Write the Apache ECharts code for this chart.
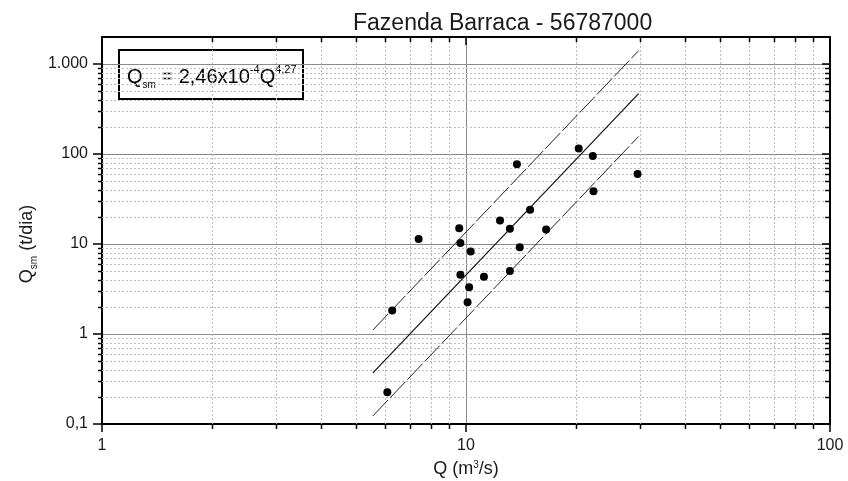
<!DOCTYPE html>
<html>
<head>
<meta charset="utf-8">
<script src="https://cdn.jsdelivr.net/npm/echarts@6/dist/echarts.min.js"></script>
<style>
  html, body { margin: 0; padding: 0; background: #fff; }
  #chart { width: 848px; height: 481px; }
</style>
</head>
<body>
<div id="chart"></div>
<script>
// Medições: vazão (m³/s) e descarga sólida em suspensão (t/dia)
const vazao    = [20.4, 22.3, 13.8, 29.6, 22.4, 15.0, 12.4, 13.2, 16.6, 9.58, 7.41, 9.65, 10.3, 14.05, 9.65, 11.2, 13.2, 10.2, 10.1, 6.27, 6.08];
const descarga = [115, 95, 77, 60, 38.5, 24, 18.3, 14.8, 14.5, 15.0, 11.4, 10.3, 8.25, 9.2, 4.57, 4.34, 5.03, 3.3, 2.25, 1.82, 0.225];

// Curva-chave de sedimentos e faixas (extremos de cada reta no gráfico log-log)
const curvaQ        = [5.55, 29.8];
const curvaCentral  = [0.37, 470];
const curvaSuperior = [1.11, 1410];
const curvaInferior = [0.123, 157];

// Limites dos eixos
const xLimites = [1, 100];
const yLimites = [0.1, 2000];

// Subdivisões logarítmicas (2..9 de cada década)
const minorQ   = [2, 3, 4, 5, 6, 7, 8, 9, 20, 30, 40, 50, 60, 70, 80, 90];
const minorQsm = [0.2, 0.3, 0.4, 0.5, 0.6, 0.7, 0.8, 0.9,
                  2, 3, 4, 5, 6, 7, 8, 9,
                  20, 30, 40, 50, 60, 70, 80, 90,
                  200, 300, 400, 500, 600, 700, 800, 900];

const FONTE = '"Liberation Sans", Arial, sans-serif';
const TXT = '#1a1a1a';

function rotuloBR(v) {
  if (v < 1) return String(+v.toPrecision(3)).replace('.', ',');
  return Math.round(v).toString().replace(/\B(?=(\d{3})+(?!\d))/g, '.');
}

const snap = (p) => Math.round(p) + 0.5;

const chart = echarts.init(document.getElementById('chart'), null, { renderer: 'canvas' });

const eixoComum = {
  type: 'log',
  logBase: 10,
  axisLine: { show: true, onZero: false, lineStyle: { color: '#000', width: 2 } },
  minorTick: { show: false },
  minorSplitLine: { show: false }
};

chart.setOption({
  animation: false,
  backgroundColor: '#fff',
  title: {
    text: 'Fazenda Barraca - 56787000',
    left: 348,
    top: 7,
    textStyle: { fontFamily: FONTE, fontSize: 23, fontWeight: 'normal', color: TXT }
  },
  grid: { left: 102, right: 18, top: 37, bottom: 57, containLabel: false, outerBoundsMode: 'none' },
  xAxis: [
    Object.assign({}, eixoComum, {
      position: 'bottom',
      min: xLimites[0], max: xLimites[1],
      axisTick: { show: true, inside: false, length: 8, lineStyle: { color: '#000', width: 1.5 } },
      axisLabel: { fontFamily: FONTE, fontSize: 16, color: TXT, margin: 14 },
      splitLine: { show: true, lineStyle: { color: '#8a8a8a', width: 1 } },
      name: 'Q (m{sup|3}/s)',
      nameLocation: 'middle',
      nameGap: 36,
      nameTextStyle: {
        fontFamily: FONTE, fontSize: 18, color: TXT,
        rich: { sup: { fontFamily: FONTE, fontSize: 10, color: TXT, verticalAlign: 'top', lineHeight: 10 } }
      }
    }),
    Object.assign({}, eixoComum, {
      position: 'top',
      min: xLimites[0], max: xLimites[1],
      axisTick: { show: true, inside: true, length: 8, lineStyle: { color: '#000', width: 1.5 } },
      axisLabel: { show: false },
      splitLine: { show: false }
    })
  ],
  yAxis: [
    Object.assign({}, eixoComum, {
      position: 'left',
      min: yLimites[0], max: yLimites[1],
      axisTick: { show: true, inside: false, length: 9, lineStyle: { color: '#000', width: 1.5 } },
      axisLabel: {
        fontFamily: FONTE, fontSize: 16, color: TXT, margin: 14,
        showMaxLabel: false,
        formatter: rotuloBR
      },
      splitLine: { show: true, lineStyle: { color: '#8a8a8a', width: 1 } }
    }),
    Object.assign({}, eixoComum, {
      position: 'right',
      min: yLimites[0], max: yLimites[1],
      axisTick: { show: true, inside: true, length: 8, lineStyle: { color: '#000', width: 1.5 } },
      axisLabel: { show: false },
      splitLine: { show: false }
    })
  ],
  graphic: [
    {
      type: 'group',
      x: 119, y: 50,
      children: [
        {
          type: 'rect',
          shape: { x: 0, y: 0, width: 184, height: 49 },
          style: { fill: '#fff', stroke: '#000', lineWidth: 2 }
        },
        {
          type: 'text',
          x: 8, y: 27,
          style: {
            text: '{m|Q}{sub|sm}{m| = 2,46x10}{sup|-4}{m|Q}{sup|4,27}',
            align: 'left', textAlign: 'left',
            verticalAlign: 'middle', textVerticalAlign: 'middle',
            fill: '#000',
            fontFamily: FONTE, fontSize: 20,
            rich: {
              m:   { fontFamily: FONTE, fontSize: 20, fill: '#000', lineHeight: 26 },
              sup: { fontFamily: FONTE, fontSize: 11, fill: '#000', lineHeight: 12, verticalAlign: 'top' },
              sub: { fontFamily: FONTE, fontSize: 10, fill: '#000', lineHeight: 12, verticalAlign: 'bottom' }
            }
          }
        }
      ]
    },
    {
      type: 'text',
      x: 27, y: 244,
      rotation: Math.PI / 2,
      style: {
        text: '{m|Q}{sub|sm}{m| (t/dia)}',
        align: 'center', textAlign: 'center',
        verticalAlign: 'middle', textVerticalAlign: 'middle',
        fill: TXT,
        fontFamily: FONTE, fontSize: 18,
        rich: {
          m:   { fontFamily: FONTE, fontSize: 18, fill: TXT, lineHeight: 24 },
          sub: { fontFamily: FONTE, fontSize: 10, fill: TXT, lineHeight: 10, verticalAlign: 'bottom' }
        }
      }
    }
  ],
  series: [
    {
      // linhas secundárias verticais + marcas menores nos eixos horizontais
      type: 'custom',
      xAxisIndex: 0, yAxisIndex: 0,
      z: 1, silent: true, clip: false,
      data: minorQ.map(q => [q, yLimites[0]]),
      renderItem: function (params, api) {
        const v = api.value(0);
        const pb = api.coord([v, yLimites[0]]);
        const pt = api.coord([v, yLimites[1]]);
        const x = snap(pb[0]);
        return {
          type: 'group',
          children: [
            { type: 'line', shape: { x1: x, y1: pb[1], x2: x, y2: pt[1] },
              style: { stroke: '#bdbdbd', lineWidth: 1, lineDash: [2, 2] } },
            { type: 'line', shape: { x1: x, y1: pb[1], x2: x, y2: pb[1] + 5 },
              style: { stroke: '#000', lineWidth: 1.5 } },
            { type: 'line', shape: { x1: x, y1: pt[1], x2: x, y2: pt[1] + 5 },
              style: { stroke: '#000', lineWidth: 1.5 } }
          ]
        };
      }
    },
    {
      // linhas secundárias horizontais + marcas menores nos eixos verticais
      type: 'custom',
      xAxisIndex: 0, yAxisIndex: 0,
      z: 1, silent: true, clip: false,
      data: minorQsm.map(v => [xLimites[0], v]),
      renderItem: function (params, api) {
        const v = api.value(1);
        const pl = api.coord([xLimites[0], v]);
        const pr = api.coord([xLimites[1], v]);
        const y = snap(pl[1]);
        return {
          type: 'group',
          children: [
            { type: 'line', shape: { x1: pl[0], y1: y, x2: pr[0], y2: y },
              style: { stroke: '#bdbdbd', lineWidth: 1, lineDash: [2, 2] } },
            { type: 'line', shape: { x1: pl[0] - 4, y1: y, x2: pl[0], y2: y },
              style: { stroke: '#000', lineWidth: 1.5 } },
            { type: 'line', shape: { x1: pr[0] - 5, y1: y, x2: pr[0], y2: y },
              style: { stroke: '#000', lineWidth: 1.5 } }
          ]
        };
      }
    },
    {
      name: 'Faixa superior',
      type: 'line',
      xAxisIndex: 0, yAxisIndex: 0,
      data: curvaQ.map((q, i) => [q, curvaSuperior[i]]),
      showSymbol: false, symbol: 'none', silent: true, z: 3,
      lineStyle: { color: '#222', width: 1, type: [22, 3], opacity: 1 }
    },
    {
      name: 'Curva-chave',
      type: 'line',
      xAxisIndex: 0, yAxisIndex: 0,
      data: curvaQ.map((q, i) => [q, curvaCentral[i]]),
      showSymbol: false, symbol: 'none', silent: true, z: 3,
      lineStyle: { color: '#111', width: 1.2, type: 'solid', opacity: 1 }
    },
    {
      name: 'Faixa inferior',
      type: 'line',
      xAxisIndex: 0, yAxisIndex: 0,
      data: curvaQ.map((q, i) => [q, curvaInferior[i]]),
      showSymbol: false, symbol: 'none', silent: true, z: 3,
      lineStyle: { color: '#222', width: 1, type: [22, 3], opacity: 1 }
    },
    {
      name: 'Medições',
      type: 'scatter',
      xAxisIndex: 0, yAxisIndex: 0,
      data: vazao.map((q, i) => [q, descarga[i]]),
      symbol: 'circle', symbolSize: 8, z: 5,
      itemStyle: { color: '#000', opacity: 1 }
    }
  ]
});
</script>
</body>
</html>
